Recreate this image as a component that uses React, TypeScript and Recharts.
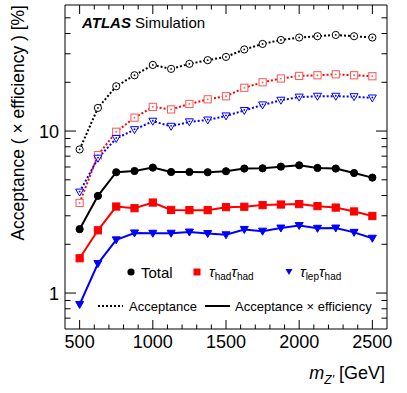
import React from 'react';
import { LineChart, Line, XAxis, YAxis } from 'recharts';

// Z' mass points [GeV]
const masses = [500, 625, 750, 875, 1000, 1125, 1250, 1375, 1500, 1625, 1750, 1875, 2000, 2125, 2250, 2375, 2500];

// acceptance [%] (dotted)
const totalAcc = [7.7, 13.9, 18.9, 22.1, 25.6, 24.2, 26.0, 27.4, 28.7, 31.9, 34.5, 36.5, 37.8, 38.5, 39.2, 38.5, 37.8];
const hadhadAcc = [3.6, 7.1, 9.9, 12.1, 14.1, 13.6, 14.7, 15.7, 16.4, 18.5, 20.0, 21.1, 21.9, 22.1, 22.4, 22.1, 21.8];
const lephadAcc = [4.2, 6.8, 9.0, 10.2, 11.5, 10.7, 11.4, 11.7, 12.4, 13.4, 14.5, 15.5, 16.2, 16.4, 16.4, 16.3, 16.0];

// acceptance x efficiency [%] (solid)
const totalEff = [2.48, 3.98, 5.57, 5.67, 5.95, 5.59, 5.59, 5.57, 5.65, 5.87, 5.89, 6.03, 6.15, 5.92, 5.87, 5.51, 5.16];
const hadhadEff = [1.64, 2.44, 3.42, 3.34, 3.62, 3.26, 3.25, 3.25, 3.39, 3.41, 3.49, 3.52, 3.54, 3.44, 3.37, 3.19, 2.99];
const lephadEff = [0.85, 1.52, 2.13, 2.35, 2.34, 2.34, 2.38, 2.33, 2.29, 2.47, 2.41, 2.52, 2.61, 2.51, 2.52, 2.37, 2.18];

const xTicks = [500, 600, 700, 800, 900, 1000, 1100, 1200, 1300, 1400, 1500, 1600, 1700, 1800, 1900, 2000, 2100, 2200, 2300, 2400, 2500];
const yTicks = [0.7, 0.8, 0.9, 1, 2, 3, 4, 5, 6, 7, 8, 9, 10, 20, 30, 40, 50];
const yLabels = [1, 10];

const data = masses.map((m, i) => ({
  m,
  tAcc: totalAcc[i], hAcc: hadhadAcc[i], lAcc: lephadAcc[i],
  tEff: totalEff[i], hEff: hadhadEff[i], lEff: lephadEff[i],
}));

const FONT = '"Liberation Sans", Arial, sans-serif';
const RED = '#ff0000';
const BLUE = '#0000ff';

const BottomTick = ({ x, y, payload }: any) => {
  const major = payload.value % 500 === 0;
  return (
    <g>
      <line x1={x} x2={x} y1={y} y2={y - (major ? 9 : 4.5)} stroke="#000" />
      {major && <text x={x} y={y + 19} textAnchor="middle" fontSize={18} fontFamily={FONT} fill="#000">{payload.value}</text>}
    </g>
  );
};
const TopTick = ({ x, y, payload }: any) => {
  const major = payload.value % 500 === 0;
  return <line x1={x} x2={x} y1={y} y2={y + (major ? 9 : 4.5)} stroke="#000" />;
};
const LeftTick = ({ x, y, payload }: any) => {
  const major = yLabels.includes(payload.value);
  return (
    <g>
      <line x1={x} x2={x + (major ? 11 : 5.5)} y1={y} y2={y} stroke="#000" />
      {major && <text x={x - 6} y={y + 6.5} textAnchor="end" fontSize={18} fontFamily={FONT} fill="#000">{payload.value}</text>}
    </g>
  );
};
const RightTick = ({ x, y, payload }: any) => {
  const major = yLabels.includes(payload.value);
  return <line x1={x} x2={x - (major ? 11 : 5.5)} y1={y} y2={y} stroke="#000" />;
};

const Circle = (filled: boolean, color: string) => (p: any) => (
  <g key={p.key}>
    <circle cx={p.cx} cy={p.cy} r={3.6} fill={filled ? color : '#fff'} stroke={color} strokeWidth={1} />
    {!filled && <circle cx={p.cx} cy={p.cy} r={0.9} fill={color} />}
  </g>
);
const Square = (filled: boolean, color: string) => (p: any) => (
  <g key={p.key}>
    <rect x={p.cx - 3.6} y={p.cy - 3.6} width={7.2} height={7.2} fill={filled ? color : '#fff'} stroke={color} strokeWidth={1} />
    {!filled && <circle cx={p.cx} cy={p.cy} r={0.9} fill={color} />}
  </g>
);
const Tri = (filled: boolean, color: string) => (p: any) => (
  <g key={p.key}>
    <polygon points={`${p.cx - 4},${p.cy - 3} ${p.cx + 4},${p.cy - 3} ${p.cx},${p.cy + 4}`} fill={filled ? color : '#fff'} stroke={color} strokeWidth={1} />
    {!filled && <circle cx={p.cx} cy={p.cy - 0.5} r={0.9} fill={color} />}
  </g>
);

const Overlay = () => (
  <svg width={407} height={393} style={{ position: 'absolute', left: 0, top: 0, pointerEvents: 'none' }} fontFamily={FONT}>
    <text x={82} y={28} fontSize={15} fill="#000">
      <tspan fontWeight="bold" fontStyle="italic">ATLAS</tspan> Simulation
    </text>
    <text transform="translate(24,5) rotate(-90)" textAnchor="end" fontSize={17.5} fill="#000">Acceptance ( × efficiency ) [%]</text>
    <text x={385} y={379} textAnchor="end" fontSize={18} fill="#000">
      <tspan fontStyle="italic">m</tspan>
      <tspan fontStyle="italic" fontSize={12} dy={5}>Z'</tspan>
      <tspan dy={-5}> [GeV]</tspan>
    </text>
    {/* legend row 1 */}
    <circle cx={131} cy={272} r={3.6} fill="#000" />
    <text x={141} y={277.5} fontSize={15} fill="#000">Total</text>
    <rect x={193.5} y={268.5} width={7} height={7} fill={RED} />
    <text x={209} y={277} fontSize={15} fill="#000">
      <tspan fontStyle="italic">τ</tspan><tspan fontSize={10} dy={3}>had</tspan>
      <tspan fontStyle="italic" fontSize={15} dy={-3}>τ</tspan><tspan fontSize={10} dy={3}>had</tspan>
    </text>
    <polygon points="285.5,269 292.5,269 289,275" fill={BLUE} />
    <text x={300} y={277} fontSize={15} fill="#000">
      <tspan fontStyle="italic">τ</tspan><tspan fontSize={10} dy={3}>lep</tspan>
      <tspan fontStyle="italic" fontSize={15} dy={-3}>τ</tspan><tspan fontSize={10} dy={3}>had</tspan>
    </text>
    {/* legend row 2 */}
    <line x1={98} x2={123} y1={306} y2={306} stroke="#000" strokeWidth={2} strokeDasharray="2 2" />
    <text x={129} y={311} fontSize={13} fill="#000">Acceptance</text>
    <line x1={205} x2={230} y1={306} y2={306} stroke="#000" strokeWidth={2} />
    <text x={235} y={311} fontSize={13} fill="#000">Acceptance × efficiency</text>
  </svg>
);

export default function App() {
  return (
    <div style={{ position: 'absolute', left: 0, top: 0, width: 407, height: 393, background: '#fff' }}>
      <LineChart width={407} height={393} data={data} margin={{ top: 0, right: 0, bottom: 0, left: 0 }}>
        <XAxis dataKey="m" type="number" domain={[400, 2600]} allowDataOverflow ticks={xTicks} interval={0}
          height={64} tickSize={0} tickMargin={0} tickLine={false} tick={<BottomTick />} axisLine={{ stroke: '#000' }} />
        <XAxis xAxisId="top" dataKey="m" type="number" orientation="top" domain={[400, 2600]} allowDataOverflow ticks={xTicks} interval={0}
          height={5} tickSize={0} tickMargin={0} tickLine={false} tick={<TopTick />} axisLine={{ stroke: '#000' }} />
        <YAxis scale="log" type="number" domain={[0.6, 60]} allowDataOverflow ticks={yTicks} interval={0}
          width={65} tickSize={0} tickMargin={0} tickLine={false} tick={<LeftTick />} axisLine={{ stroke: '#000' }} />
        <YAxis yAxisId="right" orientation="right" scale="log" type="number" domain={[0.6, 60]} allowDataOverflow ticks={yTicks} interval={0}
          width={20} tickSize={0} tickMargin={0} tickLine={false} tick={<RightTick />} axisLine={{ stroke: '#000' }} />
        <Line xAxisId="top" yAxisId="right" dataKey="tAcc" stroke="none" dot={false} isAnimationActive={false} />

        <Line dataKey="tAcc" stroke="#000" strokeWidth={2} strokeDasharray="2 2" dot={Circle(false, '#000')} isAnimationActive={false} />
        <Line dataKey="hAcc" stroke={RED} strokeWidth={2} strokeDasharray="2 2" dot={Square(false, '#ff5555')} isAnimationActive={false} />
        <Line dataKey="lAcc" stroke={BLUE} strokeWidth={2} strokeDasharray="2 2" dot={Tri(false, BLUE)} isAnimationActive={false} />
        <Line dataKey="tEff" stroke="#000" strokeWidth={2} dot={Circle(true, '#000')} isAnimationActive={false} />
        <Line dataKey="hEff" stroke={RED} strokeWidth={2} dot={Square(true, RED)} isAnimationActive={false} />
        <Line dataKey="lEff" stroke={BLUE} strokeWidth={2} dot={Tri(true, BLUE)} isAnimationActive={false} />
      </LineChart>
      <Overlay />
    </div>
  );
}
